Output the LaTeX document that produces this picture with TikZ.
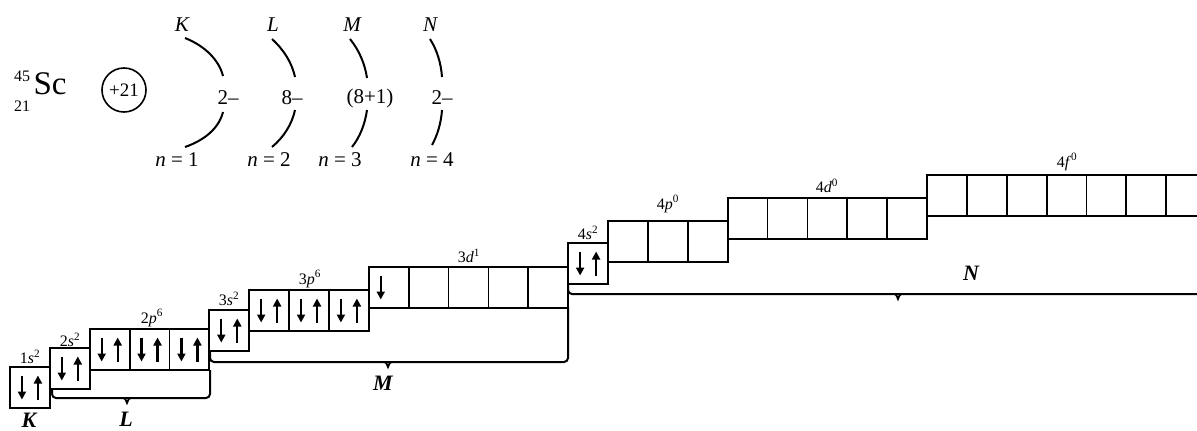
\documentclass[tikz,border=0pt]{standalone}
\usepackage{fontspec}
\setmainfont{Liberation Serif}
\usetikzlibrary{arrows.meta}
\tikzset{
 orb/.style={draw, line width=1.8pt, minimum width=39.87pt, minimum height=41pt, inner sep=0pt, outer sep=0pt, anchor=north west},
 spin/.style={line width=2.2pt, -{Triangle[length=8pt,width=8pt]}},
 olab/.style={font=\fontsize{16}{16}\selectfont, inner sep=0pt},
 shell/.style={line width=2pt},
 big/.style={font=\fontsize{21}{21}\selectfont, inner sep=0pt},
 shlab/.style={font=\fontsize{21}{21}\selectfont\itshape, inner sep=0pt},
 brace/.style={line width=2pt, rounded corners=4pt},
 cusp/.style={line width=1.8pt},
 blab/.style={font=\fontsize{22}{22}\selectfont\bfseries\itshape, inner sep=0pt}
}
\newcommand\orbrow[4]{\foreach \i in {1,...,#4} {\node[orb] (#1-\i) at ({#2+(\i-1)*39.87},#3) {};}}
\newcommand\updown[1]{%
 \draw[spin] ([xshift=-8pt,yshift=12pt]#1.center) -- ([xshift=-8pt,yshift=-12pt]#1.center);
 \draw[spin] ([xshift=8pt,yshift=-12pt]#1.center) -- ([xshift=8pt,yshift=12pt]#1.center);}
\begin{document}
\begin{tikzpicture}[x=1pt,y=-1pt]
\useasboundingbox (0,0) rectangle (1197,431);
% element symbol
\node[font=\fontsize{16}{16}\selectfont, inner sep=0pt] (mass) at (22,76) {45};
\node[font=\fontsize{16}{16}\selectfont, inner sep=0pt] (znum) at (22,106) {21};
\node[font=\fontsize{33}{33}\selectfont, inner sep=0pt] (sc) at (50,84) {Sc};
\node[draw, circle, line width=1.6pt, minimum size=44pt, inner sep=0pt, font=\fontsize{19}{19}\selectfont] (nuc) at (124,90) {+21};
% shells
\node[shlab] (sK) at (182,25) {K};
\node[shlab] (sL) at (273,25) {L};
\node[shlab] (sM) at (352,25) {M};
\node[shlab] (sN) at (430,25) {N};
\node[big] (eK) at (228,98) {2–};
\node[big] (eL) at (292,98) {8–};
\node[big] (eM) at (370,98) {(8+1)};
\node[big] (eN) at (442,98) {2–};
\node[big] (nK) at (177,160) {\textit{n} = 1};
\node[big] (nL) at (269,160) {\textit{n} = 2};
\node[big] (nM) at (340,160) {\textit{n} = 3};
\node[big] (nN) at (432,160) {\textit{n} = 4};
\draw[shell] (185,38) .. controls (205,46) and (219,60) .. (223,76);
\draw[shell] (223,112) .. controls (219,128) and (205,140) .. (185,147);
\draw[shell] (272,39) .. controls (284,50) and (292,63) .. (295,77);
\draw[shell] (295,110) .. controls (292,124) and (284,137) .. (272,147);
\draw[shell] (350,39) .. controls (359,50) and (365,64) .. (367,78);
\draw[shell] (367,110) .. controls (365,124) and (360,137) .. (352,147);
\draw[shell] (430,39) .. controls (437,50) and (441,63) .. (442,77);
\draw[shell] (442,110) .. controls (441,124) and (437,136) .. (432,145);
% orbital boxes
\orbrow{s1}{10}{367}{1}
\orbrow{s2}{49.87}{348}{1}
\orbrow{p2}{89.74}{329}{3}
\orbrow{s3}{209.35}{310}{1}
\orbrow{p3}{249.22}{290}{3}
\orbrow{d3}{368.83}{267}{5}
\orbrow{s4}{568.18}{243}{1}
\orbrow{p4}{608.05}{221}{3}
\orbrow{d4}{727.66}{198}{5}
\orbrow{f4}{927.01}{175}{7}
% spins
\foreach \b in {s1-1,s2-1,p2-1,p2-2,p2-3,s3-1,p3-1,p3-2,p3-3,s4-1} {\updown{\b}}
\draw[spin] ([xshift=-8pt,yshift=12pt]d3-1.center) -- ([xshift=-8pt,yshift=-12pt]d3-1.center);
% orbital labels
\node[olab] (l1s) at (30,357) {1\textit{s}\textsuperscript{2}};
\node[olab] (l2s) at (70,340) {2\textit{s}\textsuperscript{2}};
\node[olab] (l2p) at (152,318) {2\textit{p}\textsuperscript{6}};
\node[olab] (l3s) at (229,299) {3\textit{s}\textsuperscript{2}};
\node[olab] (l3p) at (310,279) {3\textit{p}\textsuperscript{6}};
\node[olab] (l3d) at (469,256) {3\textit{d}\textsuperscript{1}};
\node[olab] (l4s) at (588,233) {4\textit{s}\textsuperscript{2}};
\node[olab] (l4p) at (668,204) {4\textit{p}\textsuperscript{0}};
\node[olab] (l4d) at (827,186) {4\textit{d}\textsuperscript{0}};
\node[olab] (l4f) at (1067,162) {4\textit{f}\textsuperscript{0}};
% braces
\draw[brace] (52,389) -- (52,398) -- (210,398) -- (210,370);
\draw[cusp] (121,398) .. controls (125,398) .. (127,403) .. controls (129,398) .. (133,398);
\draw[brace] (210,351) -- (210,362) -- (568,362) -- (568,307);
\draw[cusp] (382,362) .. controls (386,362) .. (388,367) .. controls (390,362) .. (394,362);
\draw[brace] (568,284) -- (568,294) -- (1205,294);
\draw[cusp] (892,294) .. controls (896,294) .. (898,299) .. controls (900,294) .. (904,294);
\node[blab] (bK) at (29,420) {K};
\node[blab] (bL) at (126,419) {L};
\node[blab] (bM) at (383,383) {M};
\node[blab] (bN) at (971,273) {N};
\end{tikzpicture}
\end{document}
